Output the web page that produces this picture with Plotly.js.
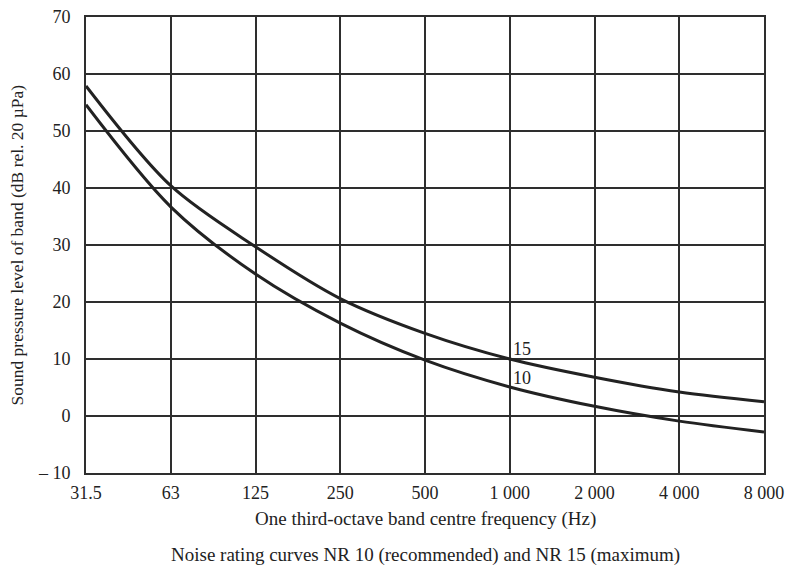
<!DOCTYPE html>
<html><head><meta charset="utf-8">
<script src="https://cdn.plot.ly/plotly-3.0.1.min.js"></script>
<style>html,body{margin:0;padding:0;background:#fff}#chart{width:785px;height:567px}</style>
</head><body><div id="chart"></div>
<script>
const categories = ["31.5","63","125","250","500","1 000","2 000","4 000","8 000"];
const nr10 = [54.6, 36.7, 24.9, 16.3, 9.8, 5.1, 1.7, -0.9, -2.8];
const nr15 = [57.9, 40.4, 29.7, 20.6, 14.5, 10.0, 6.8, 4.2, 2.5];
const yTickVals = [-10, 0, 10, 20, 30, 40, 50, 60, 70];
const yTickText = ["\u2013 10", "0", "10", "20", "30", "40", "50", "60", "70"];
const curveLabels = [{name: "15", x: "1 000", y: 11.8}, {name: "10", x: "1 000", y: 6.7}];

const font = "Liberation Serif, Times New Roman, serif";
const ink = "#222";
const lineStyle = {color: ink, width: 3, shape: "spline", smoothing: 0.9};
const traces = [
  {x: categories, y: nr10, type: "scatter", mode: "lines", line: lineStyle, hoverinfo: "skip"},
  {x: categories, y: nr15, type: "scatter", mode: "lines", line: lineStyle, hoverinfo: "skip"}
];
const annotations = curveLabels.map(l => ({
  x: l.x, y: l.y, xref: "x", yref: "y", text: l.name, showarrow: false,
  xanchor: "left", yanchor: "middle", xshift: 1, font: {family: font, size: 18, color: ink}
}));
annotations.push({
  x: 0.5, y: -0.1015, xref: "paper", yref: "paper", showarrow: false,
  text: "One third-octave band centre frequency (Hz)", yanchor: "middle",
  font: {family: font, size: 19, color: ink}
});
annotations.push({
  x: 0.5, y: -0.1805, xref: "paper", yref: "paper", showarrow: false,
  text: "Noise rating curves NR 10 (recommended) and NR 15 (maximum)", yanchor: "middle",
  font: {family: font, size: 19, color: ink}
});
annotations.push({
  x: -0.1025, y: 0.5, xref: "paper", yref: "paper", showarrow: false, textangle: -90,
  text: "Sound pressure level of band (dB rel. 20 \u00b5Pa)", xanchor: "center", yanchor: "middle",
  font: {family: font, size: 17.5, color: ink}
});

const layout = {
  width: 785, height: 567,
  margin: {l: 85.5, r: 21, t: 16.7, b: 94.3},
  paper_bgcolor: "#fff", plot_bgcolor: "#fff",
  showlegend: false,
  font: {family: font, size: 18, color: ink},
  xaxis: {
    type: "category", range: [0, 8], showgrid: true, gridcolor: "#2e2e2e", gridwidth: 2,
    showline: true, linecolor: "#2e2e2e", linewidth: 2, mirror: true, ticks: "",
    zeroline: false, tickfont: {family: font, size: 18, color: ink}, ticklabelstandoff: 2
  },
  yaxis: {
    range: [-10, 70], tickvals: yTickVals, ticktext: yTickText,
    showgrid: true, gridcolor: "#2e2e2e", gridwidth: 2,
    showline: true, linecolor: "#2e2e2e", linewidth: 2, mirror: true, ticks: "",
    zeroline: false, tickfont: {family: font, size: 18, color: ink}, ticklabelstandoff: 10
  },
  annotations: annotations
};
Plotly.newPlot("chart", traces, layout, {staticPlot: true, displayModeBar: false});
</script></body></html>
